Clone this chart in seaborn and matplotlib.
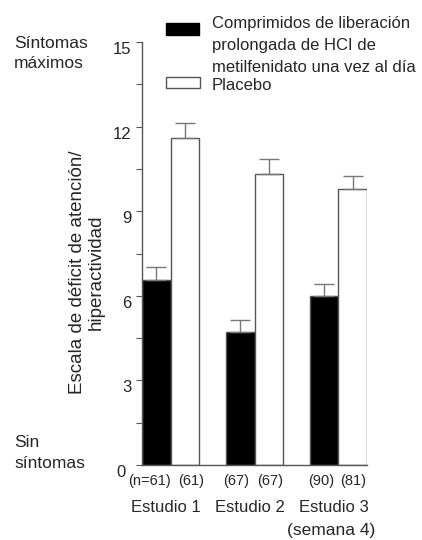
import matplotlib
matplotlib.use("Agg")
import matplotlib.pyplot as plt
import matplotlib.transforms as mtransforms
import seaborn as sns
import pandas as pd
import numpy as np
from matplotlib.patches import Rectangle
from matplotlib.ticker import MultipleLocator

studies = ["Estudio 1", "Estudio 2", "Estudio 3"]
groups = ["Comprimidos de liberación\nprolongada de HCI de\nmetilfenidato una vez al día", "Placebo"]
active_means = [6.56, 4.72, 6.0]
placebo_means = [11.6, 10.32, 9.79]
active_err = [0.46, 0.42, 0.43]
placebo_err = [0.52, 0.52, 0.46]
active_n = ["(n=61)", "(67)", "(90)"]
placebo_n = ["(61)", "(67)", "(81)"]

df = pd.DataFrame({
    "study": studies * 2,
    "group": [groups[0]] * 3 + [groups[1]] * 3,
    "value": active_means + placebo_means,
})

sns.set_style("white")
plt.rcParams["font.family"] = ["Liberation Sans", "DejaVu Sans"]

W, H = 422, 540
fig = plt.figure(figsize=(W / 100, H / 100), dpi=100)
ax = fig.add_axes([142 / W, 1 - 465 / H, (367 - 142) / W, (465 - 42) / H])

sns.barplot(data=df, x="study", y="value", hue="group", hue_order=groups,
            palette=["black", "white"], width=0.68, errorbar=None,
            edgecolor="#555555", linewidth=1.0, ax=ax, legend=False)

# error bars (upper only) from the bar patches
patches = sorted([p for p in ax.patches if p.get_height() > 0], key=lambda p: p.get_x())
centers = [p.get_x() + p.get_width() / 2 for p in patches]
heights = [p.get_height() for p in patches]
errs = []
labels_n = []
for i in range(3):
    errs += [active_err[i], placebo_err[i]]
    labels_n += [active_n[i], placebo_n[i]]
ax.errorbar(centers, heights, yerr=[np.zeros(len(errs)), errs], fmt="none",
            ecolor="#777777", elinewidth=1.0, capsize=7, capthick=1.0, zorder=1)

ax.set_xlim(-0.34, 2.34)
ax.set_ylim(0, 15)
ax.yaxis.set_major_locator(MultipleLocator(3))
ax.yaxis.set_minor_locator(MultipleLocator(1.5))
ax.tick_params(axis="y", which="both", direction="out", length=4, width=0.8,
               color="#555555", left=True, labelsize=12, pad=3.5)
ax.tick_params(axis="x", length=0, labelsize=12, pad=25)
ax.set_xticks([0, 1, 2])
ax.set_xticklabels(studies)
ax.set_xlabel("")
ax.set_ylabel("")
for s in ["top", "right"]:
    ax.spines[s].set_visible(False)
for s in ["left", "bottom"]:
    ax.spines[s].set_color("#555555")
    ax.spines[s].set_linewidth(1.0)

# small label offsets (as in the reference)
fig.canvas.draw()
for lab in ax.get_yticklabels():
    dx = -0.06 if lab.get_text() == "0" else 0.0
    lab.set_transform(lab.get_transform() + mtransforms.ScaledTranslation(dx, -0.06, fig.dpi_scale_trans))
xleft = mtransforms.ScaledTranslation(-0.05, 0, fig.dpi_scale_trans)
for lab in ax.get_xticklabels():
    lab.set_transform(lab.get_transform() + xleft)

fig.text(87 / W, 1 - 272 / H, "Escala de déficit de atención/\nhiperactividad",
         rotation=90, ha="center", va="center", fontsize=13.5, multialignment="center",
         linespacing=1.15)

# n labels under bars (pixel offsets from bar centres)
label_dx_px = [-7, 6, -4.5, 1.5, -2.5, 0.5]
for c, lab, dpx in zip(centers, labels_n, label_dx_px):
    t = ax.get_xaxis_transform() + mtransforms.ScaledTranslation(dpx / 100, 0, fig.dpi_scale_trans)
    ax.text(c, -20 / 423, lab, ha="center", va="baseline", fontsize=10.5, transform=t)

fig.text(375 / W, 1 - 535 / H, "(semana 4)", ha="right", va="baseline", fontsize=12.5)
fig.text(14 / W, 1 - 48 / H, "Síntomas", ha="left", va="baseline", fontsize=12.5)
fig.text(14 / W, 1 - 68 / H, "máximos", ha="left", va="baseline", fontsize=12.5)
fig.text(14 / W, 1 - 447 / H, "Sin", ha="left", va="baseline", fontsize=12.5)
fig.text(14 / W, 1 - 468 / H, "síntomas", ha="left", va="baseline", fontsize=12.5)

# legend (manual)
fig.patches.append(Rectangle((166 / W, 1 - 35 / H), 33 / W, 12 / H, transform=fig.transFigure,
                             facecolor="black", edgecolor="black", lw=1))
fig.patches.append(Rectangle((166 / W, 1 - 88 / H), 34 / W, 11 / H, transform=fig.transFigure,
                             facecolor="white", edgecolor="#555555", lw=1))
leg_lines = groups[0].split("\n")
for j, line in enumerate(leg_lines):
    fig.text(212 / W, 1 - (28 + 22 * j) / H, line, ha="left", va="baseline", fontsize=12)
fig.text(212 / W, 1 - 90 / H, groups[1], ha="left", va="baseline", fontsize=12)

fig.savefig("out.png", dpi=100)
